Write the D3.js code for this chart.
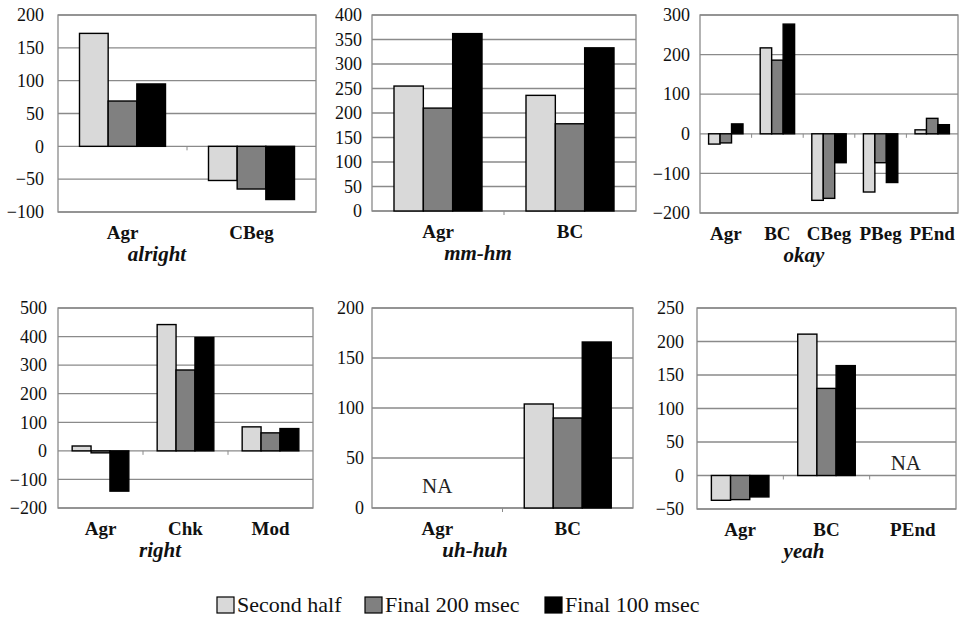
<!DOCTYPE html>
<html>
<head>
<meta charset="utf-8">
<script src="https://cdn.jsdelivr.net/npm/d3@7"></script>
<style>
  html, body { margin: 0; padding: 0; background: #fff; }
  svg, svg text { font-family: 'Liberation Serif', 'Tinos', 'Times New Roman', 'DejaVu Serif', 'Noto Serif', serif !important; }
</style>
</head>
<body>
<svg id="chart" width="961" height="620"></svg>
<script>
// ---------------- DATA ----------------
const seriesNames = ["Second half", "Final 200 msec", "Final 100 msec"];

const panelTitles = ["alright", "mm-hm", "okay", "right", "uh-huh", "yeah"];

const alrightCategories = ["Agr", "CBeg"];
const alrightSecondHalf = [172, -52];
const alrightFinal200   = [69, -65];
const alrightFinal100   = [95, -81];
const alrightTicks      = [-100, -50, 0, 50, 100, 150, 200];

const mmhmCategories = ["Agr", "BC"];
const mmhmSecondHalf = [255, 236];
const mmhmFinal200   = [210, 178];
const mmhmFinal100   = [362, 333];
const mmhmTicks      = [0, 50, 100, 150, 200, 250, 300, 350, 400];

const okayCategories = ["Agr", "BC", "CBeg", "PBeg", "PEnd"];
const okaySecondHalf = [-26, 217, -168, -147, 10];
const okayFinal200   = [-23, 186, -163, -73, 39];
const okayFinal100   = [25, 277, -73, -123, 23];
const okayTicks      = [-200, -100, 0, 100, 200, 300];

const rightCategories = ["Agr", "Chk", "Mod"];
const rightSecondHalf = [17, 442, 84];
const rightFinal200   = [-7, 283, 63];
const rightFinal100   = [-141, 397, 78];
const rightTicks      = [-200, -100, 0, 100, 200, 300, 400, 500];

const uhhuhCategories = ["Agr", "BC"];
const uhhuhSecondHalf = [null, 104];
const uhhuhFinal200   = [null, 90];
const uhhuhFinal100   = [null, 166];
const uhhuhTicks      = [0, 50, 100, 150, 200];

const yeahCategories = ["Agr", "BC", "PEnd"];
const yeahSecondHalf = [-37, 211, null];
const yeahFinal200   = [-36, 130, null];
const yeahFinal100   = [-32, 164, null];
const yeahTicks      = [-50, 0, 50, 100, 150, 200, 250];

// "NA" annotations: panel index, category, value position
const naLabels = [
  { panel: 4, category: "Agr", value: 22 },
  { panel: 5, category: "PEnd", value: 19 }
];

// ---------------- LAYOUT / STYLE ----------------
const FONT = "'Liberation Serif', 'Tinos', 'Times New Roman', 'DejaVu Serif', 'Noto Serif', serif";
const seriesColors = ["#d9d9d9", "#808080", "#000000"];
const gridColor = "#8a8a8a";

const layout = [
  { l: 58,  r: 316, t: 15,  b: 212, tx: 157, tickGap: 14 },
  { l: 372, r: 636, t: 15,  b: 211, tx: 478, tickGap: 10 },
  { l: 700, r: 958, t: 15,  b: 213, tx: 804, tickGap: 10 },
  { l: 58,  r: 313, t: 308, b: 508, tx: 160, tickGap: 11 },
  { l: 372, r: 633, t: 308, b: 508, tx: 475, tickGap: 8 },
  { l: 697, r: 956, t: 308, b: 509, tx: 804, tickGap: 13 }
];

const panels = [
  { cats: alrightCategories, series: [alrightSecondHalf, alrightFinal200, alrightFinal100], ticks: alrightTicks },
  { cats: mmhmCategories,    series: [mmhmSecondHalf, mmhmFinal200, mmhmFinal100],          ticks: mmhmTicks },
  { cats: okayCategories,    series: [okaySecondHalf, okayFinal200, okayFinal100],          ticks: okayTicks },
  { cats: rightCategories,   series: [rightSecondHalf, rightFinal200, rightFinal100],       ticks: rightTicks },
  { cats: uhhuhCategories,   series: [uhhuhSecondHalf, uhhuhFinal200, uhhuhFinal100],       ticks: uhhuhTicks },
  { cats: yeahCategories,    series: [yeahSecondHalf, yeahFinal200, yeahFinal100],          ticks: yeahTicks }
];

const svg = d3.select("#chart").attr("font-family", FONT);
const fmt = d3.format("");

panels.forEach((p, i) => {
  const L = layout[i];
  const g = svg.append("g");

  const x0 = d3.scaleBand().domain(p.cats).range([L.l, L.r])
    .paddingInner(1 / 3).paddingOuter(1 / 6);
  const x1 = d3.scaleBand().domain(d3.range(seriesNames.length))
    .range([0, x0.bandwidth()]).padding(0);
  const y = d3.scaleLinear().domain(d3.extent(p.ticks)).range([L.b, L.t]);

  // gridlines
  g.append("g").selectAll("line").data(p.ticks).join("line")
    .attr("x1", L.l).attr("x2", L.r)
    .attr("y1", d => y(d)).attr("y2", d => y(d))
    .attr("stroke", gridColor).attr("stroke-width", 1.3);

  // plot border
  g.append("rect")
    .attr("x", L.l).attr("y", L.t)
    .attr("width", L.r - L.l).attr("height", L.b - L.t)
    .attr("fill", "none").attr("stroke", gridColor).attr("stroke-width", 1.3);

  // y axis labels
  const yAxis = d3.axisLeft(y).tickValues(p.ticks).tickSize(0)
    .tickPadding(L.tickGap).tickFormat(fmt);
  const ya = g.append("g").attr("transform", `translate(${L.l},0)`).call(yAxis)
    .attr("font-family", FONT);
  ya.select(".domain").remove();
  ya.selectAll("text")
    .attr("font-family", FONT)
    .attr("font-size", 18).attr("fill", "#111");

  // category tick marks on zero line
  const step = x0.step();
  const bounds = d3.range(1, p.cats.length).map(k => L.l + k * step);
  g.append("g").selectAll("line").data(bounds).join("line")
    .attr("x1", d => d).attr("x2", d => d)
    .attr("y1", y(0)).attr("y2", y(0) + 4)
    .attr("stroke", gridColor).attr("stroke-width", 1);

  // bars
  const barData = [];
  p.cats.forEach((c, ci) => {
    p.series.forEach((s, si) => {
      if (s[ci] !== null && s[ci] !== undefined) barData.push({ c, si, v: s[ci] });
    });
  });
  g.append("g").selectAll("rect").data(barData).join("rect")
    .attr("x", d => x0(d.c) + x1(d.si))
    .attr("width", x1.bandwidth())
    .attr("y", d => Math.min(y(d.v), y(0)))
    .attr("height", d => Math.abs(y(d.v) - y(0)))
    .attr("fill", d => seriesColors[d.si])
    .attr("stroke", "#000").attr("stroke-width", 1.4);

  // category labels
  const catY = L.b + 27;
  g.append("g").selectAll("text").data(p.cats).join("text")
    .attr("x", d => x0(d) + x0.bandwidth() / 2)
    .attr("y", catY)
    .attr("text-anchor", "middle")
    .attr("font-family", FONT)
    .attr("font-weight", "bold").attr("font-size", 19).attr("fill", "#111")
    .text(d => d);

  // panel title
  g.append("text")
    .attr("x", L.tx).attr("y", L.b + 49)
    .attr("text-anchor", "middle")
    .attr("font-family", FONT)
    .attr("font-weight", "bold").attr("font-style", "italic")
    .attr("font-size", 21).attr("fill", "#111")
    .text(panelTitles[i]);

  // NA labels
  naLabels.filter(n => n.panel === i).forEach(n => {
    g.append("text")
      .attr("x", x0(n.category) + x0.bandwidth() / 2 - (i === 5 ? 7 : 0))
      .attr("y", y(n.value))
      .attr("dy", "0.35em")
      .attr("text-anchor", "middle")
      .attr("font-family", FONT)
      .attr("font-size", 21).attr("fill", "#222")
      .text("NA");
  });
});

// legend
const legendX = [217, 365, 545];
const legend = svg.append("g");
seriesNames.forEach((name, i) => {
  legend.append("rect")
    .attr("x", legendX[i]).attr("y", 597)
    .attr("width", 17).attr("height", 16)
    .attr("fill", seriesColors[i]).attr("stroke", "#000").attr("stroke-width", 1.2);
  legend.append("text")
    .attr("x", legendX[i] + 20).attr("y", 612)
    .attr("font-family", FONT)
    .attr("font-size", 22).attr("fill", "#111")
    .text(name);
});
</script>
</body>
</html>
